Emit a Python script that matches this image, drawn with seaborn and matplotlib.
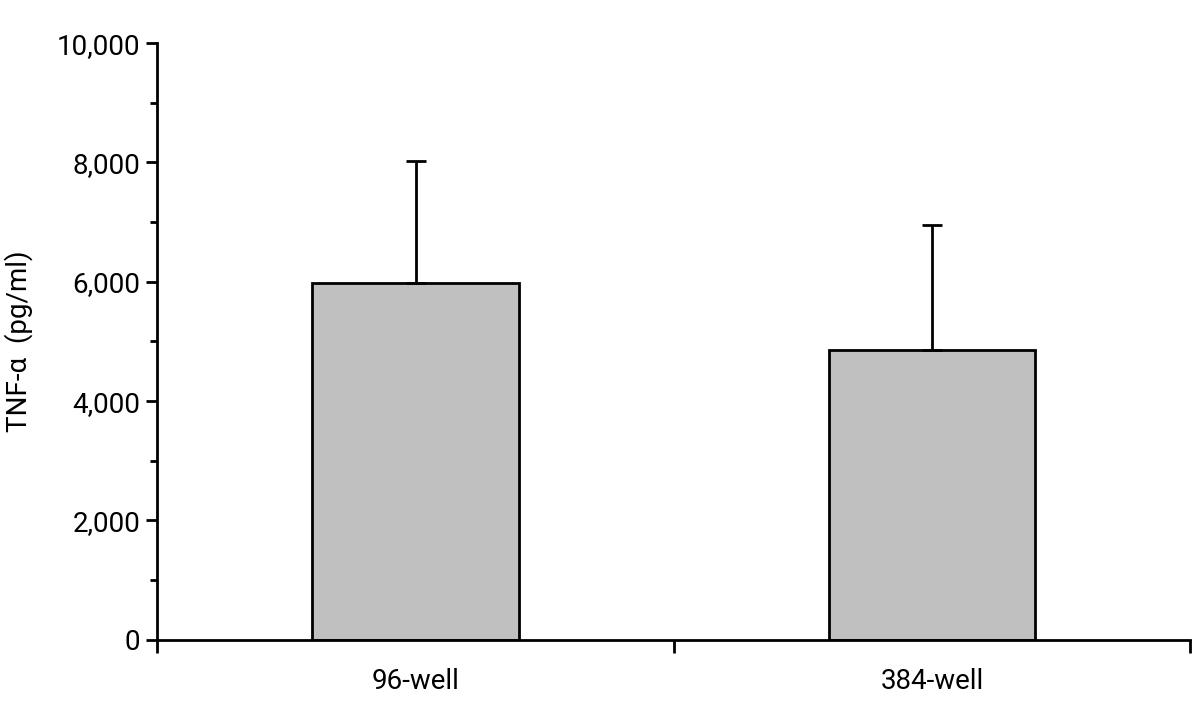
import matplotlib
matplotlib.use("Agg")
import matplotlib.pyplot as plt
import seaborn as sns
import pandas as pd
from matplotlib.ticker import FuncFormatter, MultipleLocator

# values
plates = ["96-well", "384-well"]
tnf_mean = [5980, 4860]
tnf_sd = [2050, 2090]

df = pd.DataFrame({"plate": plates, "tnf": tnf_mean})

sns.set_style("ticks", {"axes.edgecolor": "black", "text.color": "black",
                        "xtick.color": "black", "ytick.color": "black",
                        "axes.labelcolor": "black"})
plt.rcParams["font.family"] = ["Roboto", "DejaVu Sans"]

fig = plt.figure(figsize=(12, 7.07), dpi=100)
ax = fig.add_axes([0.131, 0.095, 0.861, 0.844])

sns.barplot(data=df, x="plate", y="tnf", color="#c0c0c0", width=0.4,
            edgecolor="black", linewidth=2, errorbar=None, ax=ax)
ax.errorbar(range(len(plates)), tnf_mean, yerr=[[0, 0], tnf_sd], fmt="none",
            ecolor="black", elinewidth=2, capsize=7, capthick=2, zorder=1)

ax.set_xlim(-0.5, 1.5)
ax.set_ylim(0, 10000)
ax.yaxis.set_major_locator(MultipleLocator(2000))
ax.yaxis.set_minor_locator(MultipleLocator(1000))
ax.yaxis.set_major_formatter(FuncFormatter(lambda v, p: f"{int(v):,}"))

# category boundaries get the tick marks, labels sit between them
ax.set_xticks([-0.5, 0.5, 1.5])
ax.set_xticklabels(["", "", ""])
ax.set_xticks([0, 1], minor=True)
ax.set_xticklabels(plates, minor=True)
ax.tick_params(axis="x", which="minor", length=0, pad=20, labelsize=20)
ax.tick_params(axis="x", which="major", length=9, width=2, direction="out")
ax.tick_params(axis="y", which="major", length=8, width=2, labelsize=20, pad=4)
ax.tick_params(axis="y", which="minor", length=5, width=2)

ax.set_xlabel("")
ax.set_ylabel("TNF-α  (pg/ml)", fontsize=20)
ax.yaxis.set_label_coords(-0.12, 0.5)

sns.despine(ax=ax)
for side in ["left", "bottom"]:
    ax.spines[side].set_linewidth(2)

fig.savefig("out.png", dpi=100)
